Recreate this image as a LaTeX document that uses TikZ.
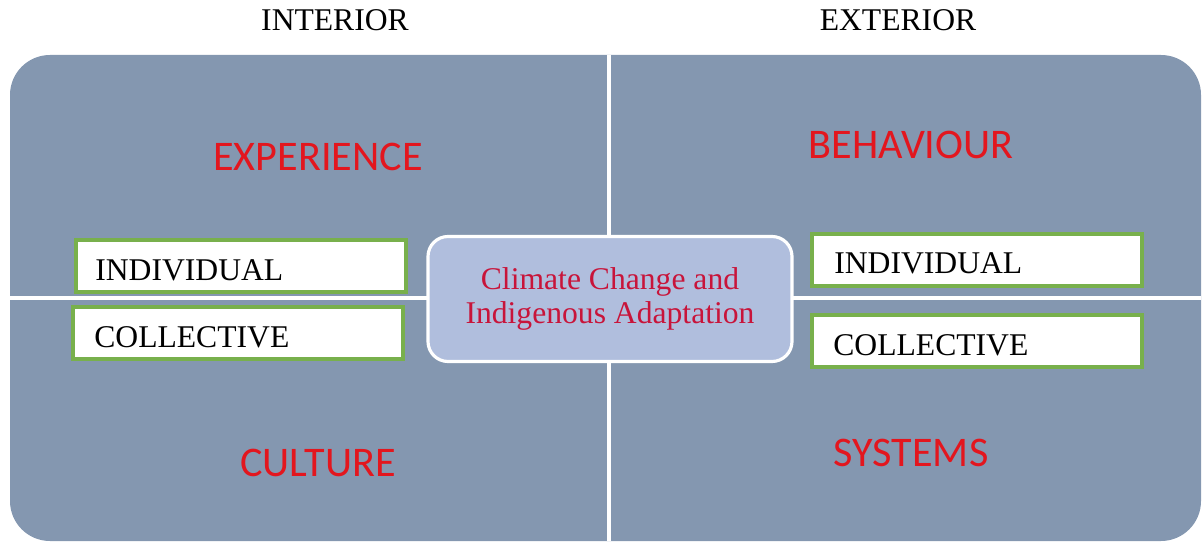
\documentclass[tikz,border=0pt]{standalone}
\usepackage{fontspec}
\setmainfont{Liberation Serif}
\newfontfamily\labelfont{Carlito}
\definecolor{quadfill}{HTML}{8497B0}
\definecolor{corefill}{HTML}{B0BEDD}
\definecolor{boxedge}{HTML}{78B04C}
\definecolor{quadred}{HTML}{E3161E}
\definecolor{corered}{HTML}{C8143A}
\tikzset{
  quadlabel/.style={text=quadred, font=\labelfont\fontsize{24}{28}\selectfont},
  axislabel/.style={font=\fontsize{18}{21}\selectfont},
  levelbox/.style={draw=boxedge, line width=1.8pt, fill=white, minimum width=330*0.02cm,
    minimum height=52*0.02cm, inner sep=0pt},
  leveltext/.style={anchor=west, inner sep=0pt, font=\fontsize{18}{21}\selectfont},
}
\begin{document}
\begin{tikzpicture}[x=0.02cm, y=-0.02cm]
  \useasboundingbox (0,0) rectangle (1203,543);

  % Quadrant background split by white rules
  \fill[quadfill, rounded corners=0.8cm] (10,55) rectangle (1201,541);
  \draw[white, line width=1.8pt] (609,55) -- (609,541);
  \draw[white, line width=1.8pt] (10,298) -- (1201,298);

  % Column headings
  \node[axislabel] (interior) at (335,20) {INTERIOR};
  \node[axislabel] (exterior) at (898,20) {EXTERIOR};

  % Quadrant names
  \node[quadlabel] (experience) at (318,157) {EXPERIENCE};
  \node[quadlabel] (behaviour) at (911,145) {BEHAVIOUR};
  \node[quadlabel] (culture) at (318,463) {CULTURE};
  \node[quadlabel] (systems) at (911,453) {SYSTEMS};

  % Individual / collective boxes
  \node[levelbox] (indivL) at (241,266) {};
  \node[leveltext] (indivLtext) at (95,270) {INDIVIDUAL};
  \node[levelbox] (collL) at (238,333) {};
  \node[leveltext] (collLtext) at (94,337) {COLLECTIVE};
  \node[levelbox] (indivR) at (977,260) {};
  \node[leveltext] (indivRtext) at (834,263) {INDIVIDUAL};
  \node[levelbox] (collR) at (977,341) {};
  \node[leveltext] (collRtext) at (833,345) {COLLECTIVE};

  % Centre theme
  \node[draw=white, line width=1.8pt, fill=corefill, rounded corners=0.4cm,
        minimum width=364*0.02cm, minimum height=125*0.02cm, align=center,
        text=corered, font=\fontsize{18}{19}\selectfont] (core) at (610,299)
        {Climate Change and\\Indigenous Adaptation};
\end{tikzpicture}
\end{document}
